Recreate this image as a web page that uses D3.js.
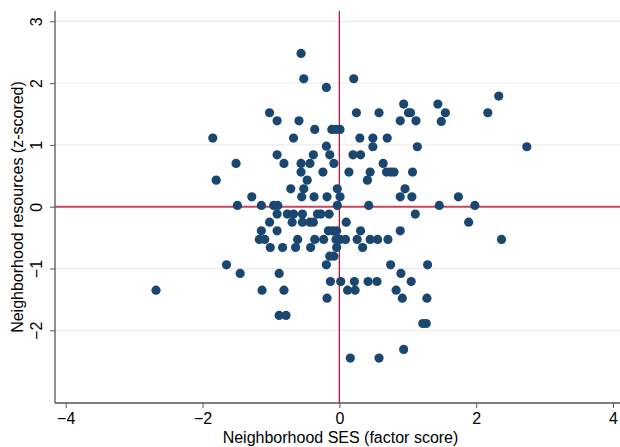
<!DOCTYPE html>
<html>
<head>
<meta charset="utf-8">
<script src="https://cdn.jsdelivr.net/npm/d3@7"></script>
<style>
  body { margin: 0; background: #fff; }
  svg { display: block; font-family: "Liberation Sans", Arial, Helvetica, sans-serif; }
</style>
</head>
<body>
<svg id="chart" width="620" height="447"></svg>
<script>
// neighborhood SES (x) and neighborhood resources (y), one entry per neighborhood
const sesScores = [
  -0.56, -0.52, -0.19, 0.21, -1.02, -0.91, -0.59, -0.36, -0.11, -0.05,
  0.01, 0.25, 0.58, 0.94, 1.01, 1.04, 0.89, 1.12, -1.85, -0.67,
  0.30, 0.49, 0.70, -0.19, 0.49, 1.14, -0.91, -0.38, -0.14, 0.20,
  0.31, 2.33, 1.44, 1.55, 1.49, 2.17, 2.74, -1.51, -0.81, -0.56,
  -0.43, -0.08, 0.64, -1.80, -0.56, -0.24, 0.14, 0.45, 0.69, 0.75,
  0.80, 1.07, -0.47, 0.41, -0.71, -0.52, -0.03, 0.96, -1.28, -0.55,
  -0.37, -0.18, 0.01, 0.89, 1.06, -1.49, -1.14, -0.96, -0.90, -0.03,
  0.43, 1.11, -0.91, -0.76, -0.67, -0.54, -0.32, -0.27, -0.15, -1.02,
  -0.69, -0.54, -0.43, -0.38, 0.10, -1.14, -0.91, -0.16, -0.10, -0.04,
  0.31, 0.89, -1.17, -1.09, -0.61, -0.36, -0.23, -0.05, 0.01, 0.09,
  0.26, 0.45, 0.56, 0.71, -1.01, -0.83, -0.64, -0.42, -0.04, 0.34,
  -0.14, -0.08, -0.19, -1.65, 0.75, -1.45, -0.88, 0.90, -0.13, 0.02,
  0.22, 0.42, 0.55, 1.05, -1.13, -0.81, 0.12, 0.23, 0.83, -2.68,
  -0.18, 0.92, 1.28, -0.88, -0.78, 0.16, 0.58, 0.94, 1.22, 1.27,
  1.46, 1.74, 1.98, 1.89, 2.37, 1.29
];
const resourceScores = [
  2.48, 2.07, 1.93, 2.07, 1.52, 1.39, 1.39, 1.25, 1.25, 1.25,
  1.25, 1.52, 1.52, 1.66, 1.52, 1.52, 1.39, 1.39, 1.11, 1.11,
  1.11, 1.11, 1.11, 0.98, 0.97, 0.97, 0.84, 0.84, 0.84, 0.84,
  0.84, 1.79, 1.66, 1.52, 1.38, 1.52, 0.97, 0.70, 0.70, 0.70,
  0.70, 0.70, 0.70, 0.43, 0.56, 0.56, 0.56, 0.56, 0.56, 0.56,
  0.56, 0.56, 0.43, 0.43, 0.29, 0.29, 0.29, 0.29, 0.16, 0.16,
  0.16, 0.16, 0.16, 0.16, 0.16, 0.02, 0.02, 0.02, 0.02, 0.02,
  0.02, -0.12, -0.12, -0.12, -0.12, -0.12, -0.12, -0.12, -0.12, -0.25,
  -0.25, -0.25, -0.25, -0.25, -0.25, -0.39, -0.39, -0.39, -0.39, -0.39,
  -0.39, -0.39, -0.53, -0.53, -0.53, -0.53, -0.53, -0.53, -0.53, -0.53,
  -0.53, -0.53, -0.53, -0.53, -0.66, -0.66, -0.66, -0.66, -0.66, -0.66,
  -0.80, -0.80, -0.94, -0.94, -0.94, -1.08, -1.08, -1.08, -1.21, -1.21,
  -1.21, -1.21, -1.21, -1.21, -1.35, -1.35, -1.35, -1.35, -1.35, -1.35,
  -1.48, -1.48, -1.48, -1.76, -1.76, -2.45, -2.45, -2.31, -1.89, -1.89,
  0.02, 0.16, 0.02, -0.25, -0.53, -0.94
];
const xTicks = [-4, -2, 0, 2, 4];
const yTicks = [-2, -1, 0, 1, 2, 3];
const xTitle = 'Neighborhood SES (factor score)';
const yTitle = 'Neighborhood resources (z-scored)';

const frame = { left: 55, right: 620, top: 11, bottom: 403 };

const svg = d3.select('#chart');

const x = d3.scaleLinear().domain([-4, 4]).range([65.7, 613]);
const y = d3.scaleLinear().domain([-2, 3]).range([330.3, 21.3]);

// light horizontal grid at each y tick
svg.append('g')
  .selectAll('line')
  .data(yTicks)
  .join('line')
  .attr('x1', frame.left)
  .attr('x2', frame.right)
  .attr('y1', d => y(d))
  .attr('y2', d => y(d))
  .attr('stroke', '#e8e8e8')
  .attr('stroke-width', 1);

// reference lines at zero
svg.append('line')
  .attr('x1', frame.left).attr('x2', frame.right)
  .attr('y1', y(0)).attr('y2', y(0))
  .attr('stroke', '#c9465f')
  .attr('stroke-width', 2);

svg.append('line')
  .attr('x1', x(0)).attr('x2', x(0))
  .attr('y1', frame.top).attr('y2', frame.bottom)
  .attr('stroke', '#b8163c')
  .attr('stroke-width', 1.3);

// points
svg.append('g')
  .selectAll('circle')
  .data(d3.zip(sesScores, resourceScores))
  .join('circle')
  .attr('cx', d => x(d[0]))
  .attr('cy', d => y(d[1]))
  .attr('r', 4.6)
  .attr('fill', '#1a476f');

// axes
const xAxis = svg.append('g')
  .attr('transform', `translate(0,${frame.bottom})`)
  .call(d3.axisBottom(x).tickValues(xTicks).tickSize(5).tickSizeOuter(0).tickFormat(d3.format('d')));
xAxis.select('.domain').remove();
xAxis.append('line')
  .attr('x1', frame.left).attr('x2', frame.right)
  .attr('stroke', '#555').attr('stroke-width', 1.3);

const yAxis = svg.append('g')
  .attr('transform', `translate(${frame.left},0)`)
  .call(d3.axisLeft(y).tickValues(yTicks).tickSize(5).tickSizeOuter(0).tickFormat(d3.format('d')));
yAxis.select('.domain').remove();
yAxis.append('line')
  .attr('y1', frame.top).attr('y2', frame.bottom)
  .attr('stroke', '#555').attr('stroke-width', 1.3);

svg.selectAll('.tick line').attr('stroke', '#555');
svg.selectAll('.tick text')
  .attr('fill', '#000')
  .style('font-size', '16px')
  .style('font-family', '"Liberation Sans", Arial, sans-serif');

xAxis.selectAll('.tick text').attr('dy', '0.71em').attr('y', 10);

// Stata-style vertical tick labels on the y axis
yAxis.selectAll('.tick text')
  .attr('x', 0).attr('y', 0).attr('dy', 0)
  .attr('text-anchor', 'middle')
  .attr('transform', 'translate(-13,0) rotate(-90)');

svg.append('text')
  .attr('x', (frame.left + frame.right) / 2 + 3)
  .attr('y', 443)
  .attr('text-anchor', 'middle')
  .style('font-size', '16px')
  .text(xTitle);

svg.append('text')
  .attr('transform', `translate(23,${(frame.top + frame.bottom) / 2}) rotate(-90)`)
  .attr('text-anchor', 'middle')
  .style('font-size', '16px')
  .text(yTitle);
</script>
</body>
</html>
